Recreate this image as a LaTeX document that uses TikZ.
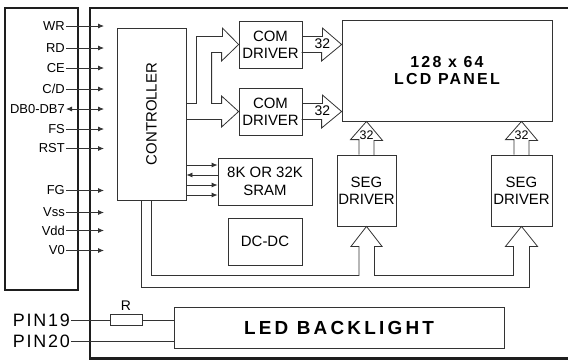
\documentclass[tikz,border=0pt]{standalone}
\usepackage{fontspec}
\setmainfont{Liberation Sans}
\newfontfamily\pinfont{Liberation Sans}[LetterSpace=10]
\newfontfamily\titlefont{Liberation Sans}[LetterSpace=14]
\newfontfamily\ledfont{Liberation Sans}[LetterSpace=17]
\usepackage{graphicx}
\usepackage{tikz}
\usetikzlibrary{arrows.meta,positioning,calc}
\definecolor{modline}{HTML}{333333}
\definecolor{modframe}{HTML}{1E1E1E}
\tikzset{
  >={Latex[length=6bp,width=5bp]},
  blk/.style={draw=modline,line width=0.8bp,inner sep=0pt,align=center,font=\fontsize{15}{17.5}\selectfont},
  title/.style={font=\titlefont\bfseries\fontsize{16}{17.5}\selectfont},
  frm/.style={draw=modframe,line width=2.4bp},
  bus/.style={draw=modline,line width=0.8bp},
  sig/.style={draw=modline,line width=0.8bp},
  pinlbl/.style={anchor=east,inner sep=1bp,font=\fontsize{13}{13}\selectfont},
  num/.style={inner sep=0pt,font=\fontsize{14}{14}\selectfont},
}

\begin{document}
\begin{tikzpicture}[x=1bp,y=-1bp]
  \useasboundingbox (0,0) rectangle (568,360);
  \draw[frm] (5,8) rectangle (78,290);
  \draw[frm] (568,8) -- (90,8) -- (90,358.5) -- (568,358.5);

  \node[blk,minimum width=69bp,minimum height=172bp] (ctrl) at (151.5,114) {\rotatebox{90}{CONTROLLER}};
  \node[blk,minimum width=63bp,minimum height=47bp] (com1) at (270.5,44.5) {COM\\DRIVER};
  \node[blk,minimum width=63bp,minimum height=47bp] (com2) at (270.5,111.5) {COM\\DRIVER};
  \node[blk,title,minimum width=210bp,minimum height=101bp] (lcd) at (447,70.5) {128 x 64\\LCD PANEL};
  \node[blk,minimum width=94bp,minimum height=47bp] (sram) at (265,181.5) {8K OR 32K\\SRAM};
  \node[blk,minimum width=74bp,minimum height=47bp] (dcdc) at (265,241.5) {DC-DC};
  \node[blk,minimum width=59bp,minimum height=71bp] (seg1) at (366.5,190.5) {SEG\\DRIVER};
  \node[blk,minimum width=61bp,minimum height=71bp] (seg2) at (521.5,190.5) {SEG\\DRIVER};
  \node[blk,minimum width=330bp,minimum height=41bp,font=\ledfont\bfseries\fontsize{19}{19}\selectfont] (led) at (339,327.7) {LED BACKLIGHT};
  \node[blk,minimum width=32bp,minimum height=11bp] (res) at (126,320) {};
  \node[num,above=3.5bp of res] (rlbl) {R};

  % interface pins
  \foreach \n/\t/\y in {wr/WR/26,rd/RD/48,ce/CE/68,cd/{C/D}/89,fs/FS/129,rst/RST/148.5,fg/FG/190.5,vss/Vss/212.5,vdd/Vdd/230.5,vz/V0/250.5}{
    \node[pinlbl] (\n) at (66,\y) {\t};
    \coordinate (\n-in) at (104,\y);
    \draw[sig,->] (\n) -- (\n-in);
  }
  \node[pinlbl] (db) at (66,109) {DB0-DB7};
  \coordinate (db-in) at (104,109);
  \draw[sig,<->] (db) -- (db-in);

  \node[pinlbl,font=\pinfont\fontsize{18}{18}\selectfont] (pin19) at (71,320) {PIN19};
  \node[pinlbl,font=\pinfont\fontsize{18}{18}\selectfont] (pin20) at (71,341) {PIN20};
  \draw[sig] (pin19) -- (res);
  \draw[sig] (res) -- (res -| led.west);
  \draw[sig] (pin20) -- (pin20 -| led.west);

  % controller to sram
  \foreach \y/\a in {165/->,175/<-,185/->,195/->}
    \draw[sig,\a] (ctrl.east |- 0,\y) -- (sram.west |- 0,\y);

  % buses
  \draw[bus] (ctrl.east |- 0,103.5) -- ++(10,0) -- ++(0,-67) -- ++(26,0) -- ++(0,-8.5) -- (com1.west)
    -- ++(-17,16.5) -- ++(0,-8.5) -- ++(-10,0) -- ++(0,51) -- ++(10,0) -- ++(0,-7.5) -- (com2.west)
    -- ++(-17,15.5) -- ++(0,-7.5) -- (ctrl.east |- 0,119.5);
  \foreach \c in {com1,com2}{
    \draw[bus] ($(\c.east)+(0,-8)$) -- ++(20,0) -- ++(0,-8.5) -- (\c.east -| lcd.west) -- ++(-20,16.5) -- ++(0,-8.5) -- ++(-20,0);
    \node[num] (\c-w) at ($(\c.east)+(20,-0.5)$) {32};
  }
  \foreach \s in {seg1,seg2}{
    \draw[bus] ([xshift=-7.5bp]\s.north) -- ++(0,-15) -- ++(-8.5,0) -- (\s.north |- lcd.south) -- ++(16,19) -- ++(-8.5,0) -- ++(0,15);
    \node[num,font=\fontsize{12.5}{12.5}\selectfont] (\s-w) at ($(\s.north |- lcd.south)+(0,14)$) {32};
  }
  \draw[bus] (ctrl.south) |- ($(seg1.south)+(-7.5,49)$) -- ++(0,-29) -- ++(-8,0) -- (seg1.south) -- ++(15.5,20) -- ++(-7.5,0) -- ++(0,29)
    -- ($(seg2.south)+(-8,49)$) -- ++(0,-29) -- ++(-8,0) -- (seg2.south) -- ++(16,20) -- ++(-8,0) -- ++(0,41) -| ($(ctrl.south)+(-10,0)$);
\end{tikzpicture}
\end{document}
